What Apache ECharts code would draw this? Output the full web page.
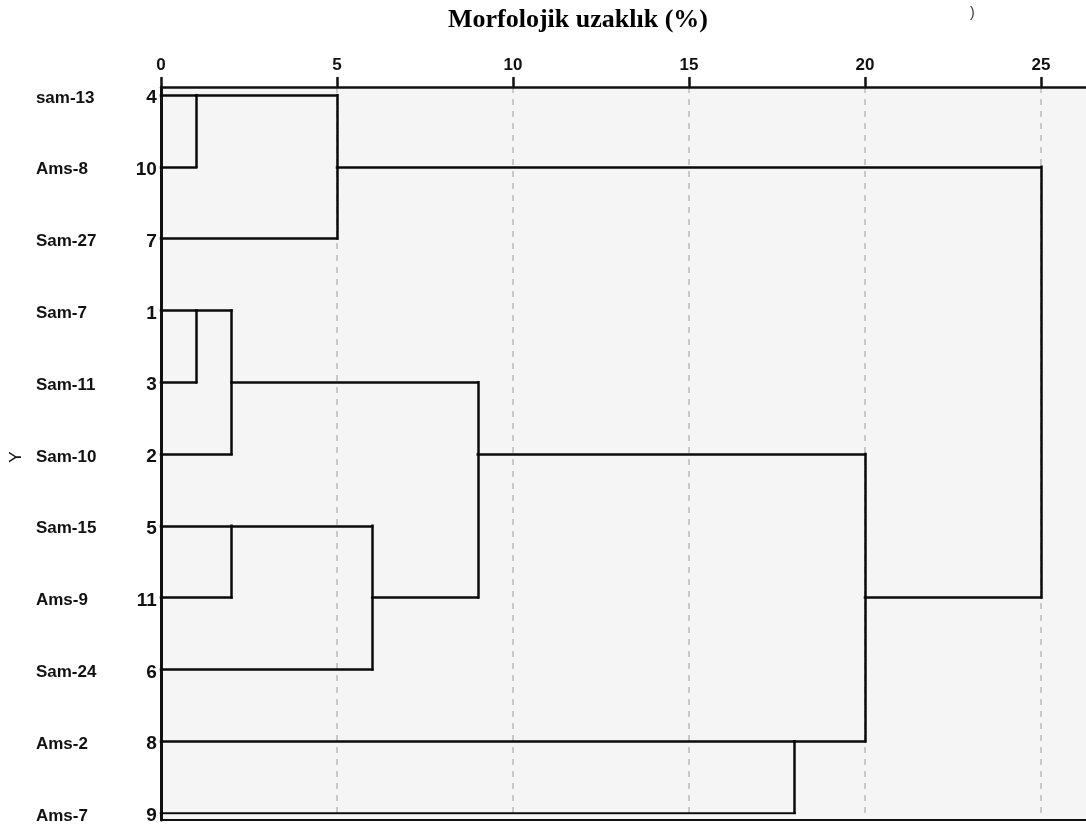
<!DOCTYPE html>
<html>
<head>
<meta charset="utf-8">
<script src="https://cdn.jsdelivr.net/npm/echarts@6/dist/echarts.min.js"></script>
<style>html,body{margin:0;padding:0;background:#fff;}#c{width:1086px;height:832px;}</style>
</head>
<body>
<div id="c"></div>
<script>
// ---- data ----
const titleText = 'Morfolojik uzaklık (%)';
const axisName = 'Y';
const rowLabels = ['sam-13','Ams-8','Sam-27','Sam-7','Sam-11','Sam-10','Sam-15','Ams-9','Sam-24','Ams-2','Ams-7'];
const caseNumbers = [4, 10, 7, 1, 3, 2, 5, 11, 6, 8, 9];
const xTicks = [0, 5, 10, 15, 20, 25];
// merges: [rowA, startXA, rowB, startXB, mergeHeight]
const merges = [
  [0, 0, 1, 0, 1],
  [0, 1, 2, 0, 5],
  [3, 0, 4, 0, 1],
  [3, 1, 5, 0, 2],
  [6, 0, 7, 0, 2],
  [6, 2, 8, 0, 6],
  [4, 2, 7, 6, 9],
  [9, 0, 10, 0, 18],
  [5, 9, 9, 18, 20],
  [1, 5, 7, 20, 25]
];

// ---- build segments ----
const segs = [];
merges.forEach(function (m) {
  const [ra, xa, rb, xb, h] = m;
  segs.push({coords: [[xa, ra], [h, ra]]});
  segs.push({coords: [[xb, rb], [h, rb]]});
  segs.push({coords: [[h, ra], [h, rb]]});
});

const XMAX = 26.28;
const lblFont = 'Liberation Sans';
const chart = echarts.init(document.getElementById('c'), null, {renderer: 'canvas'});
chart.setOption({
  backgroundColor: '#ffffff',
  animation: false,
  title: {
    text: titleText,
    left: 443, top: 2,
    textStyle: {fontFamily: 'Liberation Serif', fontWeight: 'bold', fontSize: 26, color: '#000'}
  },
  graphic: [{
    type: 'text', left: 970, top: 6,
    style: {text: ')', font: '14px "Liberation Sans"', fill: '#333'}
  }],
  grid: [
    {left: 161, right: 0, top: 95, bottom: 19, show: false},
    {left: 161, right: 0, top: 87, bottom: 12, show: true, backgroundColor: '#f5f5f5', borderWidth: 0},
    {left: 161, right: 0, top: 98, bottom: 16, show: false}
  ],
  xAxis: [
    {gridIndex: 0, type: 'value', min: 0, max: XMAX, show: false},
    {gridIndex: 1, type: 'value', position: 'top', min: 0, max: XMAX, interval: 5,
      axisLine: {show: true, onZero: false, lineStyle: {color: '#111', width: 2.5}},
      axisTick: {show: true, inside: false, length: 10, customValues: xTicks, lineStyle: {color: '#111', width: 2.5}},
      axisLabel: {margin: 13, customValues: xTicks, fontFamily: lblFont, fontSize: 17, fontWeight: 'bold', color: '#111',
        formatter: function (v) { return xTicks.indexOf(v) >= 0 ? String(v) : ''; }},
      splitLine: {show: true, showMinLine: false, lineStyle: {color: '#c8c8c8', width: 2, type: [6, 6]}}
    },
    {gridIndex: 1, type: 'value', position: 'bottom', min: 0, max: XMAX, interval: 5,
      axisLine: {show: true, onZero: false, lineStyle: {color: '#111', width: 2}},
      axisTick: {show: false}, axisLabel: {show: false}, splitLine: {show: false}
    },
    {gridIndex: 2, type: 'value', min: 0, max: XMAX, show: false}
  ],
  yAxis: [
    {gridIndex: 0, type: 'value', min: 0, max: 10, inverse: true, show: false},
    {gridIndex: 2, type: 'value', min: 0, max: 10, interval: 1, inverse: true,
      axisLine: {show: false}, axisTick: {show: false}, splitLine: {show: false},
      axisLabel: {margin: 5, fontFamily: lblFont, fontSize: 19, fontWeight: 'bold', color: '#111',
        formatter: function (v) { return caseNumbers[v] !== undefined ? String(caseNumbers[v]) : ''; }}
    },
    {gridIndex: 2, type: 'value', min: 0, max: 10, interval: 1, inverse: true, position: 'left',
      axisLine: {show: false}, axisTick: {show: false}, splitLine: {show: false},
      name: axisName, nameLocation: 'middle', nameRotate: 90, nameGap: 132,
      nameTextStyle: {fontFamily: lblFont, fontSize: 17, color: '#111'},
      axisLabel: {margin: 126, align: 'left', fontFamily: lblFont, fontSize: 17, fontWeight: 'bold', color: '#111',
        formatter: function (v) { return rowLabels[v] !== undefined ? rowLabels[v] : ''; }}
    },
    {gridIndex: 1, type: 'value', min: 0, max: 1, position: 'left',
      axisLine: {show: true, onZero: false, lineStyle: {color: '#111', width: 3}},
      axisTick: {show: false}, axisLabel: {show: false}, splitLine: {show: false}
    }
  ],
  series: [{
    type: 'lines',
    coordinateSystem: 'cartesian2d',
    xAxisIndex: 0, yAxisIndex: 0,
    polyline: false,
    silent: true,
    lineStyle: {color: '#0a0a0a', width: 2.5, opacity: 1, cap: 'square'},
    data: segs
  }]
});
</script>
</body>
</html>
